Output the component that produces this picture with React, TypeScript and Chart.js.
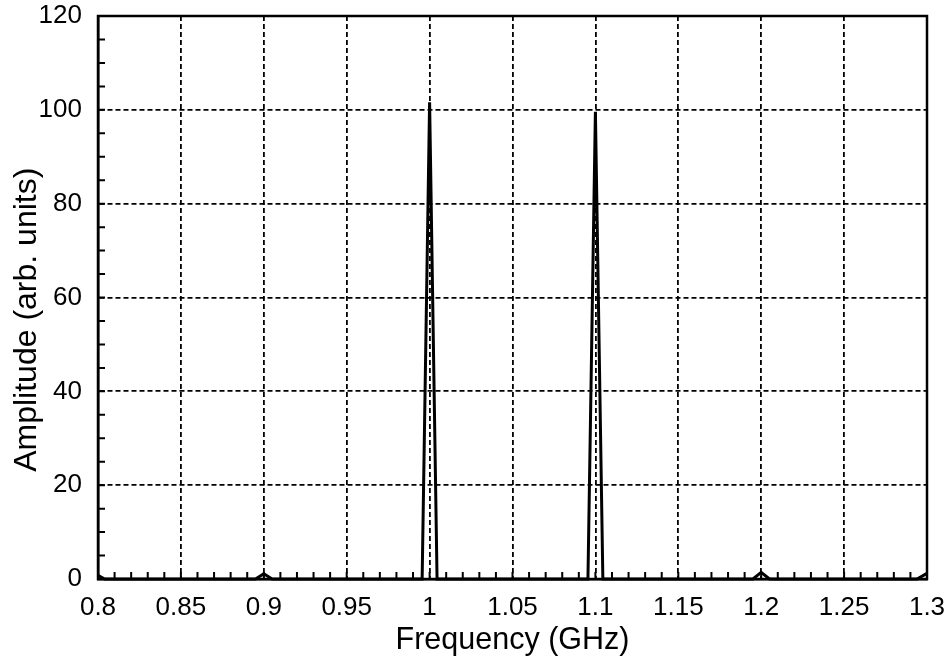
import { useEffect, useRef } from 'react';
import { Chart, registerables, type ChartConfiguration, type Plugin } from 'chart.js';

Chart.register(...registerables);

// spectrum: two main lines at 1.0 and 1.1 GHz, small sidebands
const freqGHz = [0.8, 0.804, 0.895, 0.9, 0.905, 0.9955, 1.0, 1.0045, 1.0955, 1.1, 1.1045, 1.195, 1.2, 1.205, 1.294, 1.3];
const amplitude = [0.8, 0, 0, 1.1, 0, 0, 101.6, 0, 0, 99.6, 0, 0, 1.4, 0, 0, 1.2];

const xTickLabels = ['0.8', '0.85', '0.9', '0.95', '1', '1.05', '1.1', '1.15', '1.2', '1.25', '1.3'];
const yTickLabels = ['0', '20', '40', '60', '80', '100', '120'];

const X_MINOR_STEP = 0.01;
const Y_MINOR_STEP = 5;
const FONT = '"Liberation Sans", Arial, Helvetica, sans-serif';

// inward minor ticks + closed frame round the plot area
const frameAndTicks: Plugin<'line'> = {
  id: 'frameAndTicks',
  afterDatasetsDraw(chart) {
    const { ctx, chartArea: { left, right, top, bottom }, scales: { x, y } } = chart;
    ctx.save();
    ctx.strokeStyle = '#000';
    ctx.lineWidth = 2;
    ctx.beginPath();
    const nx = Math.round((x.max - x.min) / X_MINOR_STEP);
    for (let i = 1; i < nx; i++) {
      const px = x.getPixelForValue(x.min + i * X_MINOR_STEP);
      ctx.moveTo(px, bottom);
      ctx.lineTo(px, bottom - 7);
    }
    const ny = Math.round((y.max - y.min) / Y_MINOR_STEP);
    for (let i = 1; i < ny; i++) {
      const py = y.getPixelForValue(y.min + i * Y_MINOR_STEP);
      ctx.moveTo(left, py);
      ctx.lineTo(left + 7, py);
    }
    ctx.stroke();
    ctx.lineWidth = 2.5;
    ctx.strokeRect(left, top, right - left, bottom - top);
    ctx.restore();
  },
};

export default function App() {
  const canvasRef = useRef<HTMLCanvasElement>(null);
  const chartRef = useRef<Chart | null>(null);

  useEffect(() => {
    if (!canvasRef.current) return;
    chartRef.current?.destroy();

    const config: ChartConfiguration<'line'> = {
      type: 'line',
      data: {
        datasets: [{
          data: freqGHz.map((f, i) => ({ x: f, y: amplitude[i] })),
          borderColor: '#000',
          borderWidth: 3,
          pointRadius: 0,
          tension: 0,
          clip: 6,
        }],
      },
      options: {
        animation: false,
        responsive: true,
        maintainAspectRatio: false,
        layout: { padding: { left: 0, right: 24, top: 16, bottom: 0 } },
        plugins: { legend: { display: false }, tooltip: { enabled: false } },
        scales: {
          x: {
            type: 'linear',
            min: 0.8,
            max: 1.3,
            afterFit: (scale) => {
              scale.height = 84;
              scale.paddingLeft = 0;
              scale.paddingRight = 0;
            },
            ticks: {
              stepSize: 0.05,
              padding: 13,
              color: '#000',
              font: { family: FONT, size: 26 },
              maxRotation: 0,
              autoSkip: false,
              callback: (_v, i) => xTickLabels[i],
            },
            grid: { color: '#000', lineWidth: 1.8, drawTicks: false },
            border: { display: true, color: '#000', width: 2.5, dash: [5, 3] },
            title: {
              display: true,
              text: 'Frequency (GHz)',
              color: '#000',
              font: { family: FONT, size: 30.5 },
              padding: { top: 0, bottom: 4 },
            },
          },
          y: {
            type: 'linear',
            min: 0,
            max: 120,
            afterFit: (scale) => {
              scale.width = 98;
              scale.paddingTop = 0;
              scale.paddingBottom = 0;
            },
            ticks: {
              stepSize: 20,
              padding: 16,
              color: '#000',
              font: { family: FONT, size: 26 },
              callback: (_v, i) => yTickLabels[i],
            },
            grid: { color: '#000', lineWidth: 1.8, drawTicks: false },
            border: { display: true, color: '#000', width: 2.5, dash: [5, 3] },
            title: {
              display: true,
              // trailing spaces nudge the label below the axis centre, as in the original
              text: 'Amplitude (arb. units)     ',
              color: '#000',
              font: { family: FONT, size: 32 },
              padding: { top: 8, bottom: 0 },
            },
          },
        },
      },
      plugins: [frameAndTicks],
    };
    chartRef.current = new Chart(canvasRef.current, config);

    return () => { chartRef.current?.destroy(); chartRef.current = null; };
  }, []);

  return (
    <div style={{ position: 'fixed', left: 0, top: 0, width: 951, height: 663, background: '#fff' }}>
      <canvas ref={canvasRef} />
    </div>
  );
}
